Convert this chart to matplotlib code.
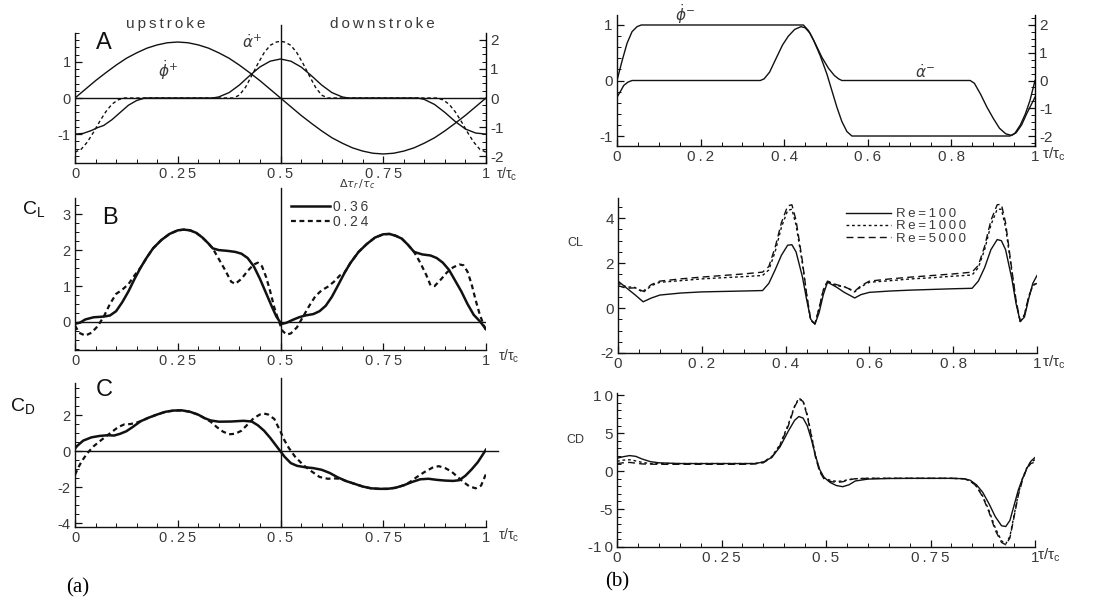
import matplotlib
matplotlib.use('Agg')
import matplotlib.pyplot as plt
from matplotlib.ticker import MultipleLocator, FuncFormatter

plt.rcParams['font.family'] = ['Liberation Sans', 'DejaVu Sans']
plt.rcParams['mathtext.fontset'] = 'dejavusans'

# ---- panel A: kinematics, (a) ----
t_phi_p = [0, 0.025, 0.05, 0.075, 0.1, 0.125, 0.15, 0.175, 0.2, 0.225, 0.25,
           0.275, 0.3, 0.325, 0.35, 0.375, 0.4, 0.425, 0.45, 0.475, 0.5,
           0.525, 0.55, 0.575, 0.6, 0.625, 0.65, 0.675, 0.7, 0.725, 0.75,
           0.775, 0.8, 0.825, 0.85, 0.875, 0.9, 0.925, 0.95, 0.975, 1.0]
phi_p = [0, 0.24, 0.48, 0.70, 0.91, 1.10, 1.25, 1.38, 1.47, 1.53, 1.55,
         1.53, 1.47, 1.38, 1.25, 1.10, 0.91, 0.70, 0.48, 0.24, 0,
         -0.24, -0.48, -0.70, -0.91, -1.10, -1.25, -1.38, -1.47, -1.53, -1.55,
         -1.53, -1.47, -1.38, -1.25, -1.10, -0.91, -0.70, -0.48, -0.24, 0]

t_alpha_p36 = [0, 0.02, 0.04, 0.055, 0.07, 0.09, 0.11, 0.13, 0.15, 0.17, 0.335,
               0.35, 0.375, 0.4, 0.425, 0.45, 0.475, 0.5, 0.525, 0.55, 0.575,
               0.6, 0.625, 0.65, 0.665, 0.835, 0.85, 0.875, 0.9, 0.925, 0.95,
               0.975, 1.0]
alpha_p36 = [-1.0, -0.98, -0.9, -0.82, -0.76, -0.6, -0.4, -0.2, -0.07, 0.0, 0.0,
             0.03, 0.15, 0.36, 0.62, 0.86, 1.02, 1.08, 1.02, 0.86, 0.62,
             0.36, 0.15, 0.03, 0.0, 0.0, -0.04, -0.18, -0.4, -0.65, -0.86,
             -0.97, -1.0]

t_alpha_p24 = [0, 0.015, 0.03, 0.045, 0.06, 0.075, 0.09, 0.105, 0.12, 0.385,
               0.4, 0.415, 0.43, 0.445, 0.46, 0.475, 0.49, 0.5, 0.51, 0.525,
               0.54, 0.555, 0.57, 0.585, 0.6, 0.615, 0.88, 0.895, 0.91, 0.925,
               0.94, 0.955, 0.97, 0.985, 1.0]
alpha_p24 = [-1.5, -1.42, -1.22, -0.95, -0.65, -0.38, -0.17, -0.05, 0.0, 0.0,
             0.08, 0.3, 0.62, 0.95, 1.25, 1.46, 1.55, 1.57, 1.55, 1.46,
             1.25, 0.95, 0.62, 0.3, 0.08, 0.0, 0.0, -0.05, -0.17, -0.38,
             -0.65, -0.95, -1.22, -1.42, -1.5]

# ---- panel B: lift coefficient ----
t_cl36 = [0, 0.012, 0.025, 0.045, 0.07, 0.085, 0.1, 0.115, 0.13, 0.145, 0.16,
          0.175, 0.19, 0.21, 0.23, 0.25, 0.265, 0.28, 0.295, 0.31, 0.325,
          0.335, 0.35, 0.37, 0.39, 0.405, 0.42, 0.435, 0.45, 0.465, 0.48,
          0.49, 0.5, 0.505, 0.515, 0.53, 0.545, 0.56, 0.58, 0.595, 0.61,
          0.625, 0.64, 0.655, 0.67, 0.69, 0.71, 0.73, 0.75, 0.765, 0.78,
          0.795, 0.81, 0.825, 0.845, 0.865, 0.88, 0.895, 0.91, 0.925, 0.94,
          0.955, 0.97, 0.985, 1.0]
cl36 = [-0.05, -0.02, 0.07, 0.13, 0.15, 0.18, 0.3, 0.55, 0.85, 1.2, 1.52,
        1.8, 2.05, 2.28, 2.45, 2.55, 2.57, 2.55, 2.48, 2.35, 2.18,
        2.05, 2.0, 1.98, 1.95, 1.9, 1.78, 1.55, 1.2, 0.8, 0.4,
        0.15, -0.02, -0.05, -0.02, 0.06, 0.13, 0.18, 0.22, 0.3, 0.45,
        0.7, 1.02, 1.35, 1.64, 1.95, 2.17, 2.35, 2.44, 2.45, 2.4,
        2.32, 2.15, 1.95, 1.88, 1.85, 1.78, 1.65, 1.45, 1.15, 0.85,
        0.5, 0.2, 0.02, -0.2]

t_cl24 = [0, 0.01, 0.025, 0.04, 0.055, 0.07, 0.085, 0.1, 0.115, 0.13, 0.145,
          0.16, 0.175, 0.19, 0.21, 0.23, 0.25, 0.265, 0.28, 0.295, 0.31,
          0.325, 0.335, 0.35, 0.365, 0.38, 0.39, 0.405, 0.42, 0.435, 0.445,
          0.455, 0.465, 0.475, 0.485, 0.495, 0.505, 0.515, 0.525, 0.54, 0.555,
          0.57, 0.585, 0.6, 0.615, 0.63, 0.645, 0.655, 0.67, 0.69, 0.71,
          0.73, 0.75, 0.765, 0.78, 0.795, 0.81, 0.825, 0.84, 0.855, 0.865,
          0.875, 0.89, 0.905, 0.92, 0.935, 0.945, 0.955, 0.965, 0.975, 0.985,
          0.995, 1.0]
cl24 = [-0.1, -0.3, -0.38, -0.3, -0.12, 0.15, 0.5, 0.78, 0.9, 1.05, 1.3,
        1.52, 1.8, 2.05, 2.28, 2.45, 2.55, 2.57, 2.55, 2.48, 2.35,
        2.18, 2.05, 1.75, 1.45, 1.12, 1.06, 1.2, 1.42, 1.6, 1.65,
        1.55, 1.25, 0.85, 0.4, 0.05, -0.25, -0.35, -0.32, -0.15, 0.15,
        0.45, 0.72, 0.88, 0.98, 1.12, 1.3, 1.36, 1.64, 1.95, 2.17,
        2.35, 2.44, 2.45, 2.4, 2.32, 2.15, 1.95, 1.65, 1.3, 1.02,
        1.0, 1.18, 1.38, 1.52, 1.6, 1.58, 1.4, 1.05, 0.6, 0.2,
        -0.1, -0.25]

# ---- panel C: drag coefficient ----
t_cd36 = [0, 0.005, 0.02, 0.04, 0.06, 0.08, 0.095, 0.11, 0.125, 0.14, 0.16,
          0.18, 0.2, 0.22, 0.24, 0.26, 0.28, 0.3, 0.315, 0.33, 0.35,
          0.38, 0.41, 0.43, 0.445, 0.46, 0.475, 0.49, 0.5, 0.51, 0.525,
          0.54, 0.56, 0.58, 0.6, 0.62, 0.64, 0.66, 0.68, 0.7, 0.72,
          0.74, 0.76, 0.78, 0.8, 0.82, 0.84, 0.86, 0.88, 0.9, 0.92,
          0.935, 0.95, 0.965, 0.98, 0.99, 1.0]
cd36 = [0.15, 0.3, 0.6, 0.78, 0.86, 0.9, 0.88, 0.98, 1.12, 1.35, 1.68,
        1.88, 2.05, 2.2, 2.27, 2.28, 2.2, 2.04, 1.85, 1.72, 1.65,
        1.66, 1.7, 1.66, 1.45, 1.15, 0.75, 0.3, 0.0, -0.3, -0.65,
        -0.8, -0.88, -0.93, -1.02, -1.2, -1.45, -1.65, -1.8, -1.95, -2.05,
        -2.08, -2.08, -2.02, -1.88, -1.7, -1.55, -1.52, -1.58, -1.62, -1.64,
        -1.6, -1.35, -1.0, -0.6, -0.25, 0.1]

t_cd24 = [0, 0.008, 0.016, 0.03, 0.045, 0.065, 0.085, 0.105, 0.12, 0.135, 0.15,
          0.16, 0.18, 0.2, 0.22, 0.24, 0.26, 0.28, 0.3, 0.315, 0.33,
          0.345, 0.36, 0.375, 0.39, 0.405, 0.42, 0.435, 0.45, 0.46, 0.47,
          0.485, 0.5, 0.51, 0.52, 0.535, 0.555, 0.575, 0.595, 0.615, 0.63,
          0.645, 0.66, 0.68, 0.7, 0.72, 0.74, 0.76, 0.78, 0.8, 0.815,
          0.83, 0.85, 0.87, 0.885, 0.9, 0.915, 0.93, 0.945, 0.96, 0.975,
          0.988, 1.0]
cd24 = [-1.3, -0.9, -0.56, -0.1, 0.28, 0.65, 1.0, 1.35, 1.5, 1.52, 1.6,
        1.68, 1.88, 2.05, 2.2, 2.27, 2.28, 2.2, 2.04, 1.85, 1.65,
        1.35, 1.1, 0.95, 0.98, 1.15, 1.5, 1.85, 2.05, 2.1, 2.05,
        1.8, 1.1, 0.6, 0.2, -0.28, -0.75, -1.1, -1.42, -1.52, -1.5,
        -1.52, -1.65, -1.8, -1.95, -2.05, -2.08, -2.08, -2.02, -1.88, -1.7,
        -1.45, -1.15, -0.9, -0.82, -0.92, -1.1, -1.4, -1.7, -1.95, -2.05,
        -1.9, -1.25]

# ---- (b) top: kinematics ----
t_phi_m = [0, 0.012, 0.024, 0.036, 0.048, 0.058, 0.446, 0.458, 0.47, 0.486,
           0.502, 0.514, 0.526, 0.538, 0.55, 0.562, 0.94, 0.952, 0.965, 0.977,
           0.988, 1.0]
phi_m = [0, 0.35, 0.67, 0.88, 0.97, 1.0, 1.0, 0.9, 0.73, 0.45,
         0.12, -0.18, -0.48, -0.74, -0.92, -1.0, -1.0, -0.95, -0.8, -0.6,
         -0.36, 0.0]

t_alpha_m = [0, 0.008, 0.016, 0.026, 0.036, 0.343, 0.352, 0.365, 0.382, 0.396,
             0.41, 0.425, 0.44, 0.45, 0.462, 0.476, 0.49, 0.506, 0.52, 0.53,
             0.538, 0.845, 0.855, 0.87, 0.885, 0.9, 0.915, 0.93, 0.944, 0.955,
             0.968, 0.98, 0.99, 1.0]
alpha_m = [-0.3, -0.2, -0.09, -0.03, 0.0, 0.0, 0.03, 0.15, 0.42, 0.64,
           0.8, 0.92, 0.97, 0.95, 0.85, 0.64, 0.42, 0.22, 0.09, 0.03,
           0.0, 0.0, -0.05, -0.25, -0.48, -0.68, -0.86, -0.96, -0.99, -0.94,
           -0.8, -0.6, -0.45, -0.3]

# ---- (b) middle: CL for three Reynolds numbers ----
t_re_cl = [0, 0.02, 0.04, 0.06, 0.08, 0.1, 0.15, 0.2, 0.25, 0.3, 0.345,
           0.36, 0.375, 0.39, 0.405, 0.415, 0.425, 0.44, 0.45, 0.46, 0.47,
           0.48, 0.49, 0.5, 0.52, 0.54, 0.565, 0.58, 0.6, 0.65, 0.7,
           0.75, 0.8, 0.845, 0.86, 0.875, 0.89, 0.905, 0.915, 0.925, 0.94,
           0.95, 0.96, 0.97, 0.98, 0.99, 1.0]
cl_re100 = [1.2, 0.9, 0.6, 0.28, 0.45, 0.58, 0.67, 0.72, 0.74, 0.76, 0.78,
            1.1, 1.7, 2.35, 2.8, 2.82, 2.5, 1.4, 0.4, -0.5, -0.72,
            -0.2, 0.6, 1.15, 0.95, 0.7, 0.45, 0.6, 0.7, 0.76, 0.8,
            0.83, 0.86, 0.88, 1.2, 1.8, 2.6, 3.05, 3.0, 2.6, 1.3,
            0.2, -0.6, -0.4, 0.4, 1.1, 1.45]
cl_re1000 = [1.1, 0.95, 0.92, 0.7, 1.0, 1.15, 1.22, 1.3, 1.35, 1.4, 1.45,
             1.7, 2.5, 3.6, 4.35, 4.4, 3.7, 2.0, 0.6, -0.55, -0.7,
             0.0, 0.8, 1.2, 1.0, 0.95, 0.72, 0.95, 1.15, 1.22, 1.3,
             1.35, 1.42, 1.47, 1.8, 2.6, 3.7, 4.4, 4.4, 3.6, 1.6,
             0.3, -0.6, -0.3, 0.5, 1.0, 1.15]
cl_re5000 = [1.0, 0.88, 0.9, 0.75, 1.05, 1.2, 1.3, 1.38, 1.45, 1.52, 1.6,
             1.85, 2.7, 3.8, 4.55, 4.6, 3.9, 2.1, 0.65, -0.55, -0.7,
             0.0, 0.8, 1.2, 1.05, 0.95, 0.75, 1.0, 1.2, 1.3, 1.38,
             1.45, 1.52, 1.6, 1.9, 2.75, 3.9, 4.6, 4.62, 3.8, 1.7,
             0.35, -0.6, -0.3, 0.5, 1.0, 1.1]

# ---- (b) bottom: CD for three Reynolds numbers ----
t_re_cd = [0, 0.015, 0.03, 0.045, 0.06, 0.08, 0.1, 0.15, 0.2, 0.25, 0.3,
           0.33, 0.35, 0.37, 0.39, 0.41, 0.425, 0.435, 0.445, 0.455, 0.465,
           0.475, 0.485, 0.495, 0.51, 0.525, 0.54, 0.555, 0.57, 0.6, 0.65,
           0.7, 0.75, 0.8, 0.83, 0.845, 0.86, 0.875, 0.89, 0.905, 0.92,
           0.93, 0.94, 0.95, 0.96, 0.97, 0.98, 0.99, 1.0]
cd_re100 = [1.7, 1.9, 2.05, 1.95, 1.6, 1.25, 1.1, 1.0, 1.0, 1.0, 1.0,
            1.0, 1.2, 1.8, 3.2, 5.3, 6.7, 7.2, 7.0, 6.0, 4.2,
            2.0, 0.2, -0.8, -1.5, -1.9, -2.05, -1.8, -1.3, -1.05, -0.97,
            -0.95, -0.95, -0.95, -1.0, -1.2, -1.8, -2.8, -4.3, -6.0, -7.2,
            -7.3, -6.5, -4.5, -2.5, -1.0, 0.3, 1.3, 1.8]
cd_re1000 = [1.3, 1.45, 1.5, 1.35, 1.15, 1.0, 1.0, 1.0, 1.0, 1.0, 1.0,
             1.0, 1.2, 1.9, 3.5, 6.2, 8.6, 9.6, 9.3, 7.5, 4.8,
             2.0, 0.0, -0.9, -1.2, -1.35, -1.3, -1.1, -1.0, -0.95, -0.95,
             -0.95, -0.95, -0.95, -1.0, -1.3, -2.0, -3.3, -5.2, -7.5, -9.2,
             -9.6, -8.6, -5.8, -3.0, -1.0, 0.4, 1.2, 1.5]
cd_re5000 = [1.0, 1.1, 1.15, 1.05, 0.95, 0.92, 0.9, 0.9, 0.9, 0.9, 0.9,
             0.95, 1.1, 1.8, 3.4, 6.0, 8.5, 9.5, 9.2, 7.3, 4.6,
             1.8, -0.1, -1.0, -1.35, -1.5, -1.4, -1.15, -1.0, -0.95, -0.95,
             -0.95, -0.95, -0.95, -1.0, -1.25, -2.0, -3.4, -5.4, -7.8, -9.4,
             -9.7, -8.8, -6.0, -3.2, -1.2, 0.3, 1.0, 1.2]

W, H = 1103, 606
fig = plt.figure(figsize=(W / 100, H / 100), dpi=100)
INK = '#111111'
TXT = '#3a3a3a'
SP = '\u2009'   # thin space, the original labels are letter-spaced


def spaced(s):
    # no gap right after a minus sign
    out = ''
    for i, ch in enumerate(s):
        out += ch
        if i < len(s) - 1 and ch != '-':
            out += SP
    return out


def box(l, t, r, b):
    return [l / W, 1 - b / H, (r - l) / W, (b - t) / H]


def ftext(x, y, s, **kw):
    fig.text(x / W, 1 - y / H, s, **kw)


num = FuncFormatter(lambda v, p: spaced(f'{v:g}'))


def style(ax, xmaj, ymaj, ymin, lsize=10.5):
    ax.spines['top'].set_visible(False)
    ax.spines['right'].set_visible(False)
    for s in ('left', 'bottom'):
        ax.spines[s].set_linewidth(1.0)
        ax.spines[s].set_color(INK)
    ax.set_xlim(0, 1)
    ax.xaxis.set_major_locator(MultipleLocator(xmaj))
    ax.xaxis.set_minor_locator(MultipleLocator(0.05))
    ax.yaxis.set_major_locator(MultipleLocator(ymaj))
    ax.yaxis.set_minor_locator(MultipleLocator(ymin))
    ax.xaxis.set_major_formatter(num)
    ax.yaxis.set_major_formatter(num)
    ax.tick_params(which='both', direction='in', colors=INK, labelcolor=TXT,
                   labelsize=lsize, pad=3)
    ax.tick_params(which='major', length=5, width=0.9)
    ax.tick_params(which='minor', length=3, width=0.7)
    ax.patch.set_alpha(0)


def twin(ax, lim, lsize=11):
    a2 = ax.twinx()
    a2.set_ylim(-lim, lim)
    for s in ('top', 'left', 'bottom'):
        a2.spines[s].set_visible(False)
    a2.spines['right'].set_linewidth(1.0)
    a2.yaxis.set_major_locator(MultipleLocator(1))
    a2.yaxis.set_minor_locator(MultipleLocator(0.25))
    a2.yaxis.set_major_formatter(num)
    a2.tick_params(which='both', direction='in', colors=INK, labelcolor=TXT,
                   labelsize=lsize, pad=3)
    a2.tick_params(which='major', length=5, width=0.9)
    a2.tick_params(which='minor', length=3, width=0.7)
    return a2


tau_lbl = 'τ/τ$_{\\mathregular{c}}$'

# ---------------- (a) A ----------------
axA = fig.add_axes(box(75, 33, 486, 163))
style(axA, 0.25, 1, 0.2)
axA.set_ylim(-1.8, 1.8)
twin(axA, 2.24)
axA.plot(t_phi_p, phi_p, color=INK, lw=1.0)
axA.plot(t_alpha_p36, alpha_p36, color=INK, lw=1.0)
axA.plot(t_alpha_p24, alpha_p24, color=INK, lw=1.0, dashes=(2.5, 2))
axA.axhline(0, color=INK, lw=1.0)
axA.axvline(0.5, ymax=1.06, color=INK, lw=1.0, clip_on=False)
ftext(104, 43, 'A', fontsize=17, ha='center', va='center', color=INK)
ftext(166, 24, spaced('upstroke'), fontsize=11, ha='center', va='center', color=TXT)
ftext(382, 24, spaced('downstroke'), fontsize=11, ha='center', va='center', color=TXT)
ftext(168, 70, r'$\dot{\phi}^{+}$', fontsize=11, ha='center', va='center', color=TXT)
ftext(252, 42, r'$\dot{\alpha}^{+}$', fontsize=11, ha='center', va='center', color=TXT)
ftext(496, 174, tau_lbl, fontsize=10, ha='left', va='center', color=TXT)

# ---------------- (a) B ----------------
axB = fig.add_axes(box(75, 198, 486, 350))
style(axB, 0.25, 1, 0.25)
axB.set_ylim(-0.78, 3.45)
axB.plot(t_cl36, cl36, color=INK, lw=1.8, label=spaced('0.36'))
axB.plot(t_cl24, cl24, color=INK, lw=1.6, dashes=(2.2, 1.6), label=spaced('0.24'))
axB.axhline(0, color=INK, lw=1.0)
axB.axvline(0.5, ymax=1.066, color=INK, lw=1.0, clip_on=False)
axB.legend(loc='upper left', bbox_to_anchor=(291 / W, 1 - 200 / H),
           bbox_transform=fig.transFigure, frameon=False, fontsize=10,
           handlelength=2.8, handletextpad=0.2, labelspacing=0.05,
           borderpad=0, borderaxespad=0, labelcolor=TXT)
ftext(357, 184, r'$\Delta\tau_r\,/\tau_c$', fontsize=8, ha='center', va='center', color=TXT)
ftext(110, 218, 'B', fontsize=17, ha='center', va='center', color=INK)
ftext(22, 210, r'C$_{\mathregular{L}}$', fontsize=14, ha='left', va='center', color=INK)
ftext(498, 356, tau_lbl, fontsize=10, ha='left', va='center', color=TXT)

# ---------------- (a) C ----------------
axC = fig.add_axes(box(75, 383, 486, 527))
style(axC, 0.25, 2, 0.5)
axC.set_ylim(-4.2, 3.8)
axC.plot(t_cd36, cd36, color=INK, lw=1.8)
axC.plot(t_cd24, cd24, color=INK, lw=1.6, dashes=(2.2, 1.6))
axC.axhline(0, xmax=1.03, color=INK, lw=1.0, clip_on=False)
axC.axvline(0.5, ymax=1.035, color=INK, lw=1.0, clip_on=False)
ftext(104, 390, 'C', fontsize=17, ha='center', va='center', color=INK)
ftext(10, 407, r'C$_{\mathregular{D}}$', fontsize=14, ha='left', va='center', color=INK)
ftext(498, 535, tau_lbl, fontsize=10, ha='left', va='center', color=TXT)

# ---------------- (b) top ----------------
axT = fig.add_axes(box(617, 15, 1035, 146))
style(axT, 0.2, 1, 0.2, lsize=11)
axT.set_ylim(-1.18, 1.18)
twin(axT, 2.36)
axT.plot(t_phi_m, phi_m, color=INK, lw=1.0)
axT.plot(t_alpha_m, alpha_m, color=INK, lw=1.0)
ftext(685, 14, r'$\dot{\phi}^{-}$', fontsize=11, ha='center', va='center', color=TXT)
ftext(925, 72, r'$\dot{\alpha}^{-}$', fontsize=11, ha='center', va='center', color=TXT)
ftext(1042, 154, tau_lbl, fontsize=11, ha='left', va='center', color=TXT)

# ---------------- (b) CL ----------------
axM = fig.add_axes(box(618, 198, 1037, 353))
style(axM, 0.2, 2, 0.5, lsize=11)
axM.set_ylim(-2, 4.9)
axM.plot(t_re_cl, cl_re100, color=INK, lw=1.0, label=spaced('Re=100'))
axM.plot(t_re_cl, cl_re1000, color=INK, lw=1.0, dashes=(2, 2), label=spaced('Re=1000'))
axM.plot(t_re_cl, cl_re5000, color=INK, lw=1.0, dashes=(5, 3), label=spaced('Re=5000'))
axM.legend(loc='upper left', bbox_to_anchor=(846 / W, 1 - 208 / H),
           bbox_transform=fig.transFigure, frameon=False, fontsize=9.5,
           handlelength=3.4, handletextpad=0.4, labelspacing=0.0,
           borderpad=0, borderaxespad=0, labelcolor=TXT)
ftext(575, 243, 'CL', fontsize=9, ha='center', va='center', color=TXT)
ftext(1042, 362, tau_lbl, fontsize=11, ha='left', va='center', color=TXT)

# ---------------- (b) CD ----------------
axD = fig.add_axes(box(617, 393, 1035, 547))
style(axD, 0.25, 5, 1, lsize=11)
axD.set_ylim(-10, 10.3)
axD.plot(t_re_cd, cd_re100, color=INK, lw=1.0)
axD.plot(t_re_cd, cd_re1000, color=INK, lw=1.0, dashes=(2, 2))
axD.plot(t_re_cd, cd_re5000, color=INK, lw=1.0, dashes=(5, 3))
ftext(575, 440, 'CD', fontsize=9, ha='center', va='center', color=TXT)
ftext(1037, 555, tau_lbl, fontsize=11, ha='left', va='center', color=TXT)

ftext(78, 588, '(a)', fontsize=15, ha='center', va='center', family='Liberation Serif')
ftext(617, 582, '(b)', fontsize=15, ha='center', va='center', family='Liberation Serif')

fig.savefig('out.png', dpi=100)
